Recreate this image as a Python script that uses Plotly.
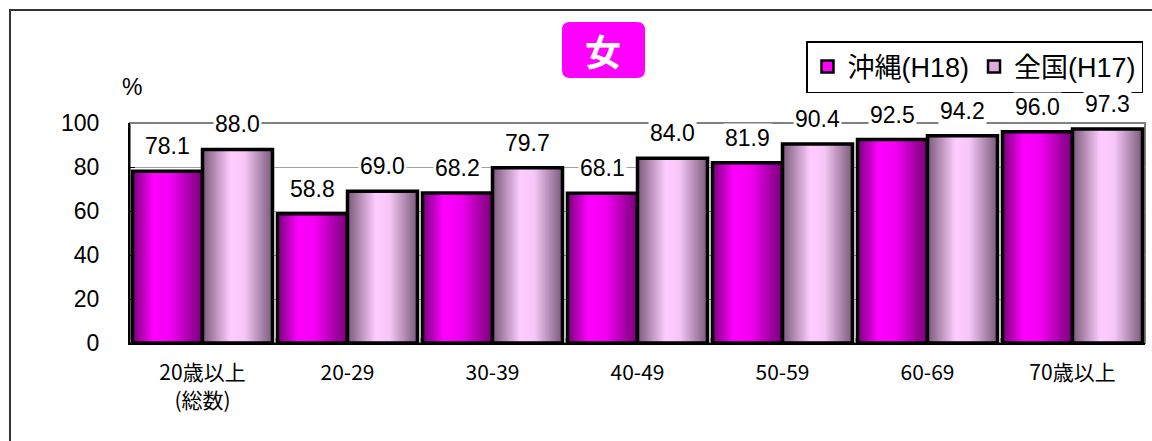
import plotly.graph_objects as go
from plotly.colors import sample_colorscale

# Categories (age groups) and rates (%)
categories = ["20歳以上<br>(総数)", "20-29", "30-39", "40-49", "50-59", "60-69", "70歳以上"]
okinawa_h18 = [78.1, 58.8, 68.2, 68.1, 81.9, 92.5, 96.0]
zenkoku_h17 = [88.0, 69.0, 79.7, 84.0, 90.4, 94.2, 97.3]
series_names = ["沖縄(H18)", "全国(H17)"]
y_ticks = [0, 20, 40, 60, 80, 100]

# Figure geometry (pixels)
W, H = 1152, 441
ML, MR, MT, MB = 130, 7, 123, 98
PW, PH = W - ML - MR, H - MT - MB


def px_x(p):
    return (p - ML) / PW


def px_y(p):
    return (H - MB - p) / PH


# Horizontal shading of each bar (cylinder-like look)
scales = [
    [[0.0, "#780078"], [0.3, "#ff00ff"], [0.55, "#f200f2"], [1.0, "#760076"]],
    [[0.0, "#7a5a7a"], [0.4, "#ffccff"], [0.6, "#f6c6f6"], [1.0, "#7a5a7a"]],
]
legend_colors = ["#ff00ff", "#e0a8e0"]

BAR_W = 0.4828
N_SLICES = 40
offsets = [-BAR_W, 0.0]

fig = go.Figure()

for s, values in enumerate([okinawa_h18, zenkoku_h17]):
    step = BAR_W / N_SLICES
    cols = sample_colorscale(scales[s], [(i + 0.5) / N_SLICES for i in range(N_SLICES)])
    for i in range(N_SLICES):
        start = offsets[s] + i * step
        w = min(step * 1.6, BAR_W - i * step)
        fig.add_trace(go.Bar(
            x=categories, y=values, offset=start, width=w,
            marker=dict(color=cols[i], line=dict(width=0)),
            showlegend=False, hoverinfo="skip",
        ))
    # black outline around each bar
    fig.add_trace(go.Bar(
        x=categories, y=values, offset=offsets[s], width=BAR_W,
        marker=dict(color="rgba(0,0,0,0)", line=dict(color="black", width=3.5)),
        showlegend=False, hoverinfo="skip",
    ))

# legend entries
for s, name in enumerate(series_names):
    fig.add_trace(go.Bar(
        x=[None], y=[None], name=name,
        marker=dict(color=legend_colors[s], line=dict(color="black", width=2.5)),
    ))

label_font = dict(family="Liberation Sans, Arial, sans-serif", size=23, color="black")
annotations = []
for s, values in enumerate([okinawa_h18, zenkoku_h17]):
    for i, v in enumerate(values):
        annotations.append(dict(
            x=i + offsets[s] + BAR_W / 2, y=v, xref="x", yref="y",
            text=f"{v:.1f}", showarrow=False, yanchor="middle", yshift=25,
            bgcolor="white", borderpad=1, font=label_font,
        ))

# percent unit label
annotations.append(dict(
    x=px_x(132), y=px_y(87), xref="paper", yref="paper", text="%",
    showarrow=False, font=label_font, xanchor="center", yanchor="middle",
))

# gender title
annotations.append(dict(
    x=px_x(603), y=px_y(50), xref="paper", yref="paper", text="<b>女</b>",
    showarrow=False, xanchor="center", yanchor="middle",
    font=dict(family="Noto Sans CJK JP", size=36, color="white"),
))


def rounded_rect(x0, y0, x1, y1, r):
    X = lambda p: px_x(p)
    Y = lambda p: px_y(p)
    return (
        f"M {X(x0 + r)},{Y(y0)} L {X(x1 - r)},{Y(y0)} Q {X(x1)},{Y(y0)} {X(x1)},{Y(y0 + r)} "
        f"L {X(x1)},{Y(y1 - r)} Q {X(x1)},{Y(y1)} {X(x1 - r)},{Y(y1)} "
        f"L {X(x0 + r)},{Y(y1)} Q {X(x0)},{Y(y1)} {X(x0)},{Y(y1 - r)} "
        f"L {X(x0)},{Y(y0 + r)} Q {X(x0)},{Y(y0)} {X(x0 + r)},{Y(y0)} Z"
    )


shapes = [
    # outer frame
    dict(type="rect", xref="paper", yref="paper",
         x0=px_x(10), x1=px_x(1170), y0=px_y(460), y1=px_y(10),
         line=dict(color="#333333", width=2), fillcolor="rgba(0,0,0,0)", layer="below"),
    # plot area border
    dict(type="rect", xref="paper", yref="paper", x0=0, x1=1, y0=0, y1=1,
         line=dict(color="#808080", width=2), fillcolor="rgba(0,0,0,0)", layer="below"),
    # title box
    dict(type="path", xref="paper", yref="paper", path=rounded_rect(562, 22, 645, 78, 8),
         fillcolor="#ff00ff", line=dict(width=0)),
]

fig.update_layout(
    width=W, height=H,
    margin=dict(l=ML, r=MR, t=MT, b=MB),
    paper_bgcolor="white", plot_bgcolor="white",
    barmode="overlay",
    annotations=annotations,
    shapes=shapes,
    legend=dict(
        orientation="h", x=px_x(806), y=px_y(41), xanchor="left", yanchor="top",
        bgcolor="white", bordercolor="black", borderwidth=1.5,
        font=dict(family="Liberation Sans, Noto Sans CJK JP, sans-serif", size=27, color="black"),
        traceorder="normal", itemwidth=30,
    ),
    xaxis=dict(
        type="category", showgrid=False, showline=True, linecolor="black", linewidth=2,
        ticks="inside", tickson="boundaries", ticklen=5, tickcolor="#808080",
        tickfont=dict(family="Noto Sans CJK JP", size=21, color="black"),
        ticklabelstandoff=10,
        range=[-0.5, len(categories) - 0.5],
    ),
    yaxis=dict(
        range=[0, 100], tickvals=y_ticks, showgrid=True, gridcolor="#a0a0a0", gridwidth=1,
        showline=True, linecolor="black", linewidth=2, ticks="inside", ticklen=5,
        tickcolor="black", tickfont=label_font, ticklabelstandoff=24, zeroline=False,
    ),
)

fig.write_html("out.html")
